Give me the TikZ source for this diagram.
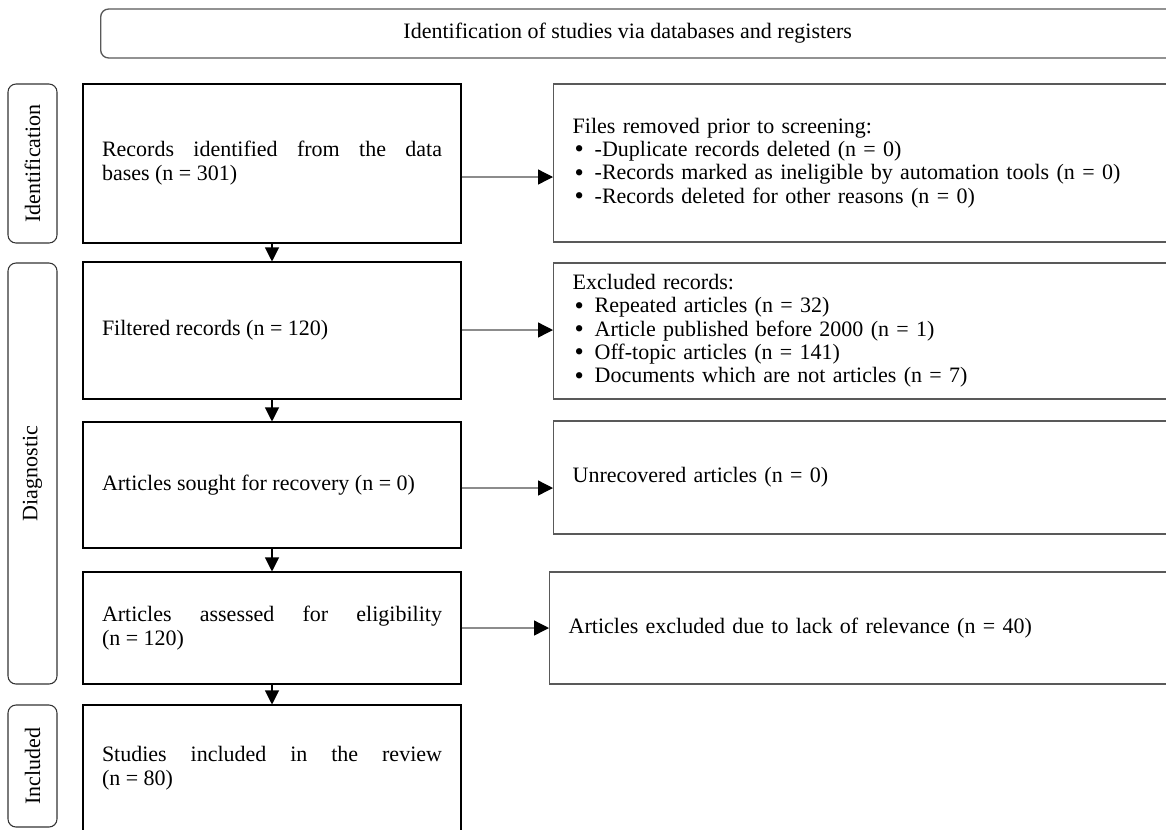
\documentclass[tikz,border=0pt]{standalone}
\usepackage{fontspec}
\setmainfont{Liberation Serif}
\usetikzlibrary{arrows.meta,calc}
\begin{document}
\begin{tikzpicture}[x=0.75pt,y=-0.75pt,
  lbox/.style={draw=black, line width=0.8pt, minimum width=283.5pt, text width=255pt,
    inner xsep=14.25pt, inner ysep=0pt, align=justify, font=\fontsize{16.5}{18}\selectfont},
  rbox/.style={draw=black!65, line width=1pt, anchor=west, minimum width=525pt, text width=496.5pt,
    inner xsep=14.25pt, inner ysep=0pt, align=left, font=\fontsize{16.5}{17.5}\selectfont},
  side/.style={draw=black!80, line width=0.8pt, rounded corners=6pt, rotate=90,
    minimum height=36.75pt, inner sep=0pt, font=\fontsize{16.5}{18}\selectfont},
  hdr/.style={draw=black!65, line width=1pt, rounded corners=6pt, anchor=west,
    minimum width=825pt, minimum height=36.75pt, inner sep=0pt},
  varr/.style={line width=0.8pt, -{Triangle[length=10.5pt,width=10.5pt]}},
  harr/.style={draw=black!45, line width=1pt, -{Triangle[length=11.25pt,width=11.25pt,color=black]}}
]
\useasboundingbox (0,0) rectangle (1166,829);
\clip (0,0) rectangle (1166,829);
\fill[white] (0,0) rectangle (1166,829);

% header
\node[hdr, label={[xshift=-17.25pt, font=\fontsize{16.5}{18}\selectfont]center:Identification of studies via databases and registers}] (hd) at (100,33.5) {};

% side labels
\node[side, minimum width=119.25pt] (sid) at (32.5,163.5) {Identification};
\node[side, minimum width=315.75pt] (sdi) at (32.5,473.5) {Diagnostic};
\node[side, minimum width=91.5pt] (sin) at (32.5,766) {Included};

% left boxes
\node[lbox, minimum height=119.25pt] (b1) at (272,163.5) {Records identified from the data\linebreak bases (n = 301)};
\node[lbox, minimum height=102.75pt] (b2) at (272,330.5) {Filtered records (n = 120)};
\node[lbox, minimum height=94.5pt] (b3) at (272,485) {Articles sought for recovery (n = 0)};
\node[lbox, minimum height=84pt] (b4) at (272,628) {Articles assessed for eligibility\linebreak (n = 120)};
\node[lbox, minimum height=94.5pt] (b5) at (272,768) {Studies included in the review\linebreak (n = 80)};

% right boxes
\newcommand{\bitem}{\hspace*{1.5pt}\makebox[15pt][l]{\smash{\raisebox{-0.8pt}{\scalebox{1.2}{\textbullet}}}}}
\node[rbox, minimum height=118.5pt] (r1) at (553,163) {Files removed prior to screening:\\
\bitem -Duplicate records deleted (n = 0)\\
\bitem -Records marked as ineligible by automation tools (n = 0)\\
\bitem -Records deleted for other reasons (n = 0)};
\node[rbox, minimum height=102pt] (r2) at (553,331) {Excluded records:\\
\bitem Repeated articles (n = 32)\\
\bitem Article published before 2000 (n = 1)\\
\bitem Off-topic articles (n = 141)\\
\bitem Documents which are not articles (n = 7)};
\node[rbox, minimum height=84.75pt] (r3) at (553,477.5) {Unrecovered articles (n = 0)};
\node[rbox, minimum height=84pt] (r4) at (549,628) {Articles excluded due to lack of relevance (n = 40)};

% vertical arrows
\draw[varr] (b1) -- (b2);
\draw[varr] (b2) -- (b3);
\draw[varr] (b3) -- (b4);
\draw[varr] (b4) -- (b5);

% horizontal arrows
\draw[harr] ($(b1.east)+(0,13.5)$) -- ($(r1.west)+(0,14)$);
\draw[harr] ($(b2.east)+(0,-0.5)$) -- ($(r2.west)+(0,-1)$);
\draw[harr] ($(b3.east)+(0,3)$) -- ($(r3.west)+(0,10.5)$);
\draw[harr] (b4.east) -- (r4.west);
\end{tikzpicture}
\end{document}
